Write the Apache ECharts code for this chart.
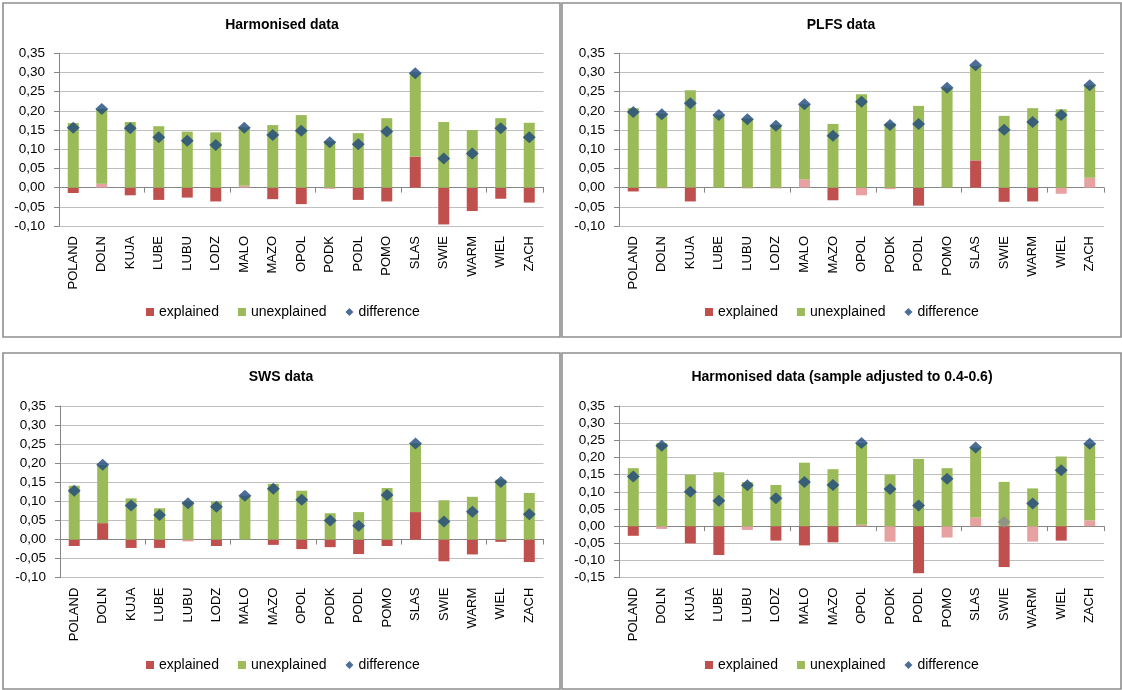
<!DOCTYPE html>
<html>
<head>
<meta charset="utf-8">
<script src="https://cdn.jsdelivr.net/npm/echarts@6/dist/echarts.min.js"></script>
<style>
html,body{margin:0;padding:0;background:#fff;}
#c{width:1122px;height:690px;}
</style>
</head>
<body>
<div id="c"></div>
<script>
const categories = ['POLAND','DOLN','KUJA','LUBE','LUBU','LODZ','MALO','MAZO','OPOL','PODK','PODL','POMO','SLAS','SWIE','WARM','WIEL','ZACH'];

const panelTitles = ['Harmonised data','PLFS data','SWS data','Harmonised data (sample adjusted to 0.4-0.6)'];
const seriesNames = ['explained','unexplained','difference'];

// Harmonised data
const harmExplained   = [-0.014, 0.010,-0.020,-0.032,-0.026,-0.036, 0.005,-0.030,-0.043,-0.003,-0.032,-0.036, 0.081,-0.096,-0.061,-0.029,-0.039];
const harmUnexplained = [ 0.168, 0.195, 0.171, 0.160, 0.146, 0.144, 0.152, 0.163, 0.189, 0.121, 0.142, 0.181, 0.217, 0.171, 0.150, 0.181, 0.169];
const harmDifference  = [ 0.156, 0.205, 0.155, 0.131, 0.122, 0.111, 0.156, 0.137, 0.148, 0.118, 0.113, 0.146, 0.298, 0.076, 0.089, 0.155, 0.131];
const harmExplSig     = [1,0,1,1,1,1,0,1,1,0,1,1,1,1,1,1,1];
const harmDiffSig     = [1,1,1,1,1,1,1,1,1,1,1,1,1,1,1,1,1];

// PLFS data
const plfsExplained   = [-0.010,-0.002,-0.036, 0.000,-0.002,-0.002, 0.022,-0.033,-0.020,-0.004,-0.047, 0.000, 0.071,-0.037,-0.036,-0.016, 0.026];
const plfsUnexplained = [ 0.207, 0.193, 0.254, 0.189, 0.180, 0.163, 0.195, 0.166, 0.243, 0.167, 0.213, 0.260, 0.246, 0.187, 0.207, 0.204, 0.241];
const plfsDifference  = [ 0.197, 0.191, 0.220, 0.189, 0.178, 0.161, 0.217, 0.135, 0.224, 0.163, 0.166, 0.260, 0.319, 0.151, 0.171, 0.189, 0.267];
const plfsExplSig     = [1,0,1,1,0,0,0,1,0,0,1,1,1,1,1,0,0];
const plfsDiffSig     = [1,1,1,1,1,1,1,1,1,1,1,1,1,1,1,1,1];

// SWS data
const swsExplained    = [-0.017, 0.043,-0.022,-0.022,-0.005,-0.017, 0.000,-0.014,-0.025,-0.020,-0.038,-0.017, 0.072,-0.057,-0.039,-0.006,-0.059];
const swsUnexplained  = [ 0.141, 0.153, 0.108, 0.082, 0.100, 0.100, 0.115, 0.146, 0.128, 0.069, 0.072, 0.135, 0.180, 0.103, 0.112, 0.157, 0.122];
const swsDifference   = [ 0.128, 0.196, 0.089, 0.064, 0.095, 0.086, 0.115, 0.133, 0.104, 0.050, 0.036, 0.117, 0.252, 0.047, 0.073, 0.151, 0.066];
const swsExplSig      = [1,1,1,1,0,1,1,1,1,1,1,1,1,1,1,1,1];
const swsDiffSig      = [1,1,1,1,1,1,1,1,1,1,1,1,1,1,1,1,1];

// Harmonised data (sample adjusted to 0.4-0.6)
const adjExplained    = [-0.028,-0.008,-0.050,-0.084,-0.011,-0.042,-0.056,-0.047, 0.004,-0.045,-0.137,-0.033, 0.025,-0.119,-0.045,-0.042, 0.017];
const adjUnexplained  = [ 0.169, 0.242, 0.150, 0.157, 0.128, 0.120, 0.185, 0.166, 0.238, 0.150, 0.196, 0.169, 0.204, 0.129, 0.110, 0.203, 0.223];
const adjDifference   = [ 0.145, 0.234, 0.100, 0.074, 0.119, 0.081, 0.129, 0.120, 0.242, 0.108, 0.060, 0.138, 0.229, 0.012, 0.066, 0.163, 0.240];
const adjExplSig      = [1,0,1,1,0,1,1,1,0,0,1,0,0,1,0,1,0];
const adjDiffSig      = [1,1,1,1,1,1,1,1,1,1,1,1,1,0,1,1,1];

const yMins = [-0.10,-0.10,-0.10,-0.15];
const yMax = 0.35;
const yInterval = 0.05;

const panelsData = [
  [harmExplained, harmUnexplained, harmDifference, harmExplSig, harmDiffSig],
  [plfsExplained, plfsUnexplained, plfsDifference, plfsExplSig, plfsDiffSig],
  [swsExplained, swsUnexplained, swsDifference, swsExplSig, swsDiffSig],
  [adjExplained, adjUnexplained, adjDifference, adjExplSig, adjDiffSig]
];

// layout
const FONT = '"Liberation Sans", Arial, sans-serif';
const RED = '#C0504D', PINK = '#E6A1A0', GREEN = '#9BBB59', BLUE = '#1F497D', GREY = '#8C8C8C';
const AXIS = '#868686', GRIDC = '#BFBFBF';
const grids = [
  {left: 59,  top: 53.3, width: 484.5, height: 172.7},
  {left: 619, top: 53.3, width: 485,   height: 172.7},
  {left: 60,  top: 406,  width: 483.5, height: 171.7},
  {left: 619, top: 406,  width: 485,   height: 171.7}
];
const titlePos = [[282, 18],[841, 18],[281, 370],[842, 370]];
const legendPos = [[146, 305],[705, 305],[146, 658],[705, 658]];
const frames = [[3,3,557,334],[562,3,559,334],[3,353,557,336],[562,353,559,336]];

const option = {
  animation: false,
  textStyle: {fontFamily: FONT},
  title: panelTitles.map((t,i)=>({
    text: t, left: titlePos[i][0], top: titlePos[i][1], textAlign: 'center', padding: 0,
    textStyle: {fontFamily: FONT, fontSize: 14, fontWeight: 'bold', color: '#000'}
  })),
  legend: legendPos.map(p=>({
    left: p[0], top: p[1], padding: 0, itemGap: 19, itemWidth: 8, itemHeight: 8,
    textStyle: {fontFamily: FONT, fontSize: 14, color: '#000'},
    data: [{name: seriesNames[0], icon: 'rect'},{name: seriesNames[1], icon: 'rect'},{name: seriesNames[2], icon: 'diamond'}]
  })),
  grid: grids,
  xAxis: [],
  yAxis: [],
  series: [],
  graphic: frames.map(f=>({
    type: 'rect', shape: {x: f[0], y: f[1], width: f[2], height: f[3]},
    style: {fill: 'none', stroke: '#8E8E8E', lineWidth: 1.6}, silent: true
  }))
};

for (let i = 0; i < 4; i++) {
  const [expl, unexpl, diff, explSig, diffSig] = panelsData[i];
  option.xAxis.push({
    type: 'category', gridIndex: i, position: 'bottom', data: categories,
    axisLine: {show: false, onZero: false}, axisTick: {show: false},
    axisLabel: {rotate: 90, interval: 0, margin: 10, fontSize: 13, color: '#000', fontFamily: FONT}
  });
  option.xAxis.push({
    type: 'category', gridIndex: i, position: 'top', data: categories,
    axisLine: {show: true, onZero: true, lineStyle: {color: AXIS, width: 1}},
    axisTick: {show: true, inside: true, length: 5, lineStyle: {color: AXIS}},
    axisLabel: {show: false}, splitLine: {show: false}
  });
  option.yAxis.push({
    type: 'value', gridIndex: i, min: yMins[i], max: yMax, interval: yInterval,
    axisLine: {show: true, lineStyle: {color: AXIS}},
    axisTick: {show: true, length: 5, lineStyle: {color: AXIS}},
    splitLine: {show: true, lineStyle: {color: GRIDC, width: 1}},
    axisLabel: {fontSize: 13.5, color: '#000', margin: 14, fontFamily: FONT,
      formatter: v => v.toFixed(2).replace('.', ',')}
  });
  option.series.push({
    type: 'bar', name: seriesNames[0], xAxisIndex: 2*i, yAxisIndex: i, stack: 'p'+i, barWidth: 11,
    itemStyle: {color: RED},
    data: expl.map((v,j)=>({value: v, itemStyle: {color: explSig[j] ? RED : PINK}}))
  });
  option.series.push({
    type: 'bar', name: seriesNames[1], xAxisIndex: 2*i, yAxisIndex: i, stack: 'p'+i, barWidth: 11,
    itemStyle: {color: GREEN}, data: unexpl
  });
  option.series.push({
    type: 'scatter', name: seriesNames[2], xAxisIndex: 2*i, yAxisIndex: i, symbol: 'diamond', symbolSize: [13, 12], z: 5,
    itemStyle: {color: BLUE},
    data: diff.map((v,j)=>({value: v, itemStyle: {color: diffSig[j] ? BLUE : GREY}}))
  });
}

const chart = echarts.init(document.getElementById('c'), null, {renderer: 'canvas'});
chart.setOption(option);
</script>
</body>
</html>
